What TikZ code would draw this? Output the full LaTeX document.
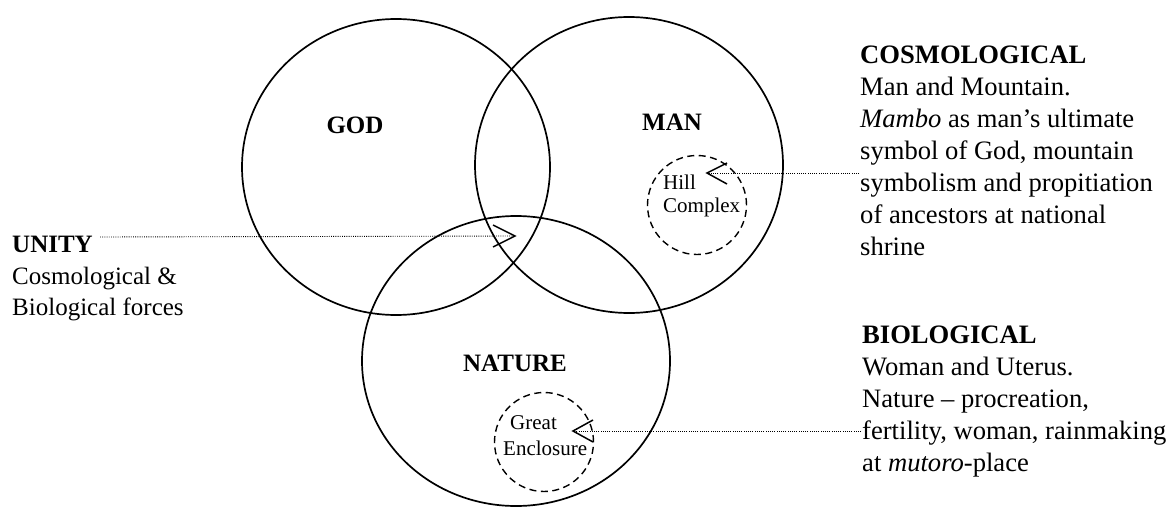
\documentclass[tikz,border=0pt]{standalone}
\usepackage{fontspec}
\setmainfont{Liberation Serif}
\usetikzlibrary{shapes.geometric}
\begin{document}
\begin{tikzpicture}[x=1pt,y=-1pt,
  ring/.style={draw, ellipse, line width=1.7pt, minimum width=308pt, minimum height=296pt, inner sep=0pt},
  site/.style={draw, circle, dash pattern=on 7pt off 4.5pt, line width=1.4pt, minimum size=99pt, inner sep=0pt},
  setname/.style={font=\bfseries\fontsize{25}{30}\selectfont, inner sep=0pt},
  sitename/.style={font=\fontsize{21}{25}\selectfont, inner sep=0pt, anchor=west},
  notes/.style={font=\fontsize{25}{31.5}\selectfont, align=left, inner sep=0pt, anchor=north west},
  widenotes/.style={notes, font=\fontsize{26.6}{32}\selectfont},
  dotline/.style={line width=0.9pt, dash pattern=on 0.9pt off 1.3pt},
  chevron/.style={line width=1.5pt, line join=miter}
]
\useasboundingbox (0,0) rectangle (1174,508);

% the three overlapping spheres
\node[ring] (god) at (396,167) {};
\node[ring] (man) at (629,165) {};
\node[ring, minimum height=290pt] (nature) at (516,361) {};
\node[setname] (godname) at (355,125) {GOD};
\node[setname] (manname) at (672,122) {MAN};
\node[setname] (naturename) at (515,363) {NATURE};

% the two sites
\node[site] (hill) at (697,205) {};
\node[sitename] (hilla) at (663,182) {Hill};
\node[sitename] (hillb) at (663,207) {Complex};
\node[site] (enclosure) at (544,442) {};
\node[sitename] (encla) at (510,423) {Great};
\node[sitename] (enclb) at (503,448) {Enclosure};

% explanatory texts
\node[notes] (unity) at (12,236) {\textbf{UNITY}\\Cosmological \&\\Biological forces};
\node[widenotes] (cosmo) at (860,46) {\textbf{COSMOLOGICAL}\\Man and Mountain.\\\textit{Mambo} as man’s ultimate\\symbol of God, mountain\\symbolism and propitiation\\of ancestors at national\\shrine};
\node[widenotes] (bio) at (862,326) {\textbf{BIOLOGICAL}\\Woman and Uterus.\\Nature -- procreation,\\fertility, woman, rainmaking\\at \textit{mutoro}-place};

% pointer ends
\coordinate (utail) at (100,237);
\coordinate (utip) at (515,236);
\coordinate (htail) at (859,173);
\coordinate (htip) at (707,173);
\coordinate (etail) at (861,431);
\coordinate (etip) at (573,431);

% dotted pointers with open heads
\draw[dotline] (utail) -- (utip);
\draw[chevron] (utip) ++(-22,-11) -- (utip) -- ++(-22,11);
\draw[dotline] (htail) -- (htip);
\draw[chevron] (htip) ++(20,-10) -- (htip) -- ++(20,11);
\draw[dotline] (etail) -- (etip);
\draw[chevron] (etip) ++(20,-11) -- (etip) -- ++(20,11);
\end{tikzpicture}
\end{document}
